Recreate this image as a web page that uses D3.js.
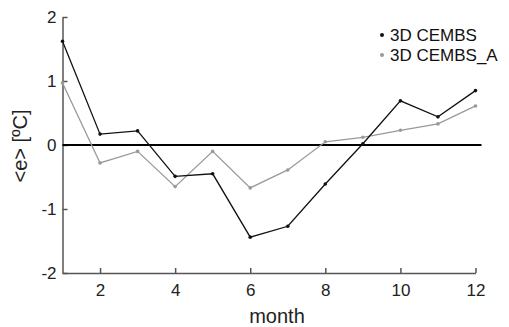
<!DOCTYPE html>
<style>
body { margin: 0; background: #fff; }
svg { font-family: "Liberation Sans", Arial, sans-serif; }
.axis .domain { stroke: #555; stroke-width: 1.5; }
.axis .tick line { stroke: #555; stroke-width: 1.5; }
.axis text { font-size: 17px; fill: #222; font-family: "Liberation Sans", Arial, sans-serif; }
</style>
<svg width="509" height="327" id="chart"></svg>
<script src="https://cdn.jsdelivr.net/npm/d3@7"></script>
<script>
var months = [1, 2, 3, 4, 5, 6, 7, 8, 9, 10, 11, 12];
var cembs = [1.62, 0.17, 0.22, -0.49, -0.45, -1.44, -1.27, -0.61, 0.02, 0.69, 0.44, 0.85];
var cembsA = [0.97, -0.28, -0.10, -0.65, -0.10, -0.67, -0.39, 0.05, 0.12, 0.23, 0.33, 0.61];
var xTicks = [2, 4, 6, 8, 10, 12];
var yTicks = [-2, -1, 0, 1, 2];
var seriesNames = ["3D CEMBS", "3D CEMBS_A"];

var svg = d3.select("#chart");

var x = d3.scaleLinear().domain([1, 12]).range([62.5, 475.5]);
var y = d3.scaleLinear().domain([-2, 2]).range([273, 17]);

var color = d3.scaleOrdinal().domain(seriesNames).range(["#111", "#999"]);

var fmt = function(d) { return String(d); };

// axes
svg.append("g")
    .attr("class", "axis")
    .attr("transform", "translate(0," + y(-2) + ")")
    .call(d3.axisBottom(x).tickValues(xTicks).tickFormat(fmt).tickSizeInner(-5).tickSizeOuter(0).tickPadding(11));

svg.append("g")
    .attr("class", "axis")
    .attr("transform", "translate(" + x(1) + ",0)")
    .call(d3.axisLeft(y).tickValues(yTicks).tickFormat(fmt).tickSizeInner(-5).tickSizeOuter(0).tickPadding(6));

// zero line
svg.append("line")
    .attr("x1", x(1)).attr("x2", x(12) + 6)
    .attr("y1", y(0)).attr("y2", y(0))
    .attr("stroke", "#000")
    .attr("stroke-width", 2);

var line = d3.line()
    .x(function(d, i) { return x(months[i]); })
    .y(function(d) { return y(d); });

[[seriesNames[1], cembsA], [seriesNames[0], cembs]].forEach(function(s) {
  svg.append("path")
      .datum(s[1])
      .attr("fill", "none")
      .attr("stroke", color(s[0]))
      .attr("stroke-width", 1.3)
      .attr("d", line);
  svg.append("g").selectAll("circle").data(s[1])
    .enter().append("circle")
      .attr("cx", function(d, i) { return x(months[i]); })
      .attr("cy", function(d) { return y(d); })
      .attr("r", 1.8)
      .attr("fill", color(s[0]));
});

// labels
svg.append("text")
    .attr("x", 277).attr("y", 323)
    .attr("text-anchor", "middle")
    .attr("font-size", 20)
    .attr("fill", "#222")
    .text("month");

svg.append("text")
    .attr("transform", "translate(27,146) rotate(-90)")
    .attr("text-anchor", "middle")
    .attr("font-size", 20)
    .attr("fill", "#222")
    .text("<e> [ºC]");

// legend
var legend = svg.append("g").selectAll("g")
    .data(seriesNames)
    .enter().append("g")
      .attr("transform", function(d, i) { return "translate(382," + (35 + i * 20) + ")"; });

legend.append("circle")
    .attr("r", 2)
    .attr("cy", 0)
    .attr("fill", color);

legend.append("text")
    .attr("x", 8)
    .attr("dy", "0.35em")
    .attr("font-size", 17)
    .attr("fill", "#111")
    .text(function(d) { return d; });
</script>
